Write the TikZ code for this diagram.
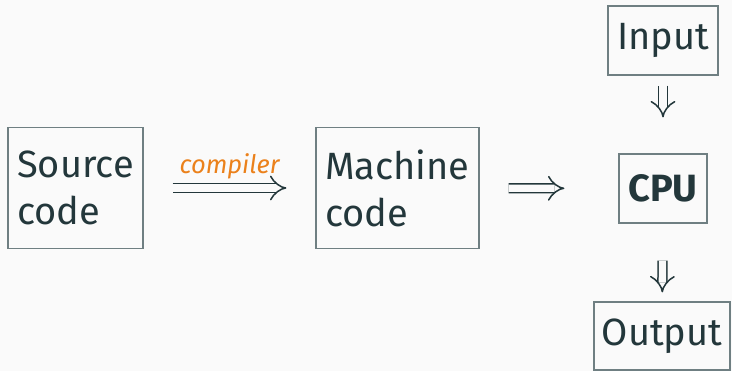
\documentclass[tikz,border=0pt]{standalone}
\usepackage{fontspec}
\setmainfont{Fira Sans}
\usetikzlibrary{arrows}
\definecolor{bg}{HTML}{FAFAFA}
\definecolor{fg}{HTML}{23373B}
\definecolor{boxline}{HTML}{6F7F82}
\definecolor{orng}{HTML}{EB811B}
\tikzset{
  box/.style={draw=boxline, line width=1.2pt, text=fg, inner sep=0pt, align=left,
    font=\fontsize{38}{47}\selectfont},
  dbl/.style={draw=fg, line width=1.5pt, double=bg, double distance=7.3pt, -implies}
}
\begin{document}
\begin{tikzpicture}[x=1pt,y=-1pt]
\fill[bg] (0,0) rectangle (732,371);
\useasboundingbox (0,0) rectangle (732,371);
\node[box, minimum width=135pt, minimum height=121pt] (src) at (75.5,188) {Source\\code};
\node[box, minimum width=163pt, minimum height=121pt] (mc) at (397.5,188) {Machine\\code};
\node[box, minimum width=110pt, minimum height=69pt] (in) at (663,40.5) {Input};
\node[box, minimum width=88pt, minimum height=69pt, font=\fontsize{38}{47}\selectfont\bfseries] (cpu) at (663,188.5) {CPU};
\node[box, minimum width=136pt, minimum height=68pt] (out) at (662,336) {Output};
\draw[dbl, shorten <=29pt, shorten >=29pt] (src) -- node[above=4.5pt, text=orng, font=\fontsize{25.5}{30}\selectfont\itshape] (lbl) {compiler} (mc);
\draw[dbl, shorten <=29pt, shorten >=54pt] (mc) -- (cpu);
\draw[dbl, shorten <=10pt, shorten >=36pt] (in) -- (cpu);
\draw[dbl, shorten <=37pt, shorten >=9pt] (cpu) -- (out);
\end{tikzpicture}
\end{document}
